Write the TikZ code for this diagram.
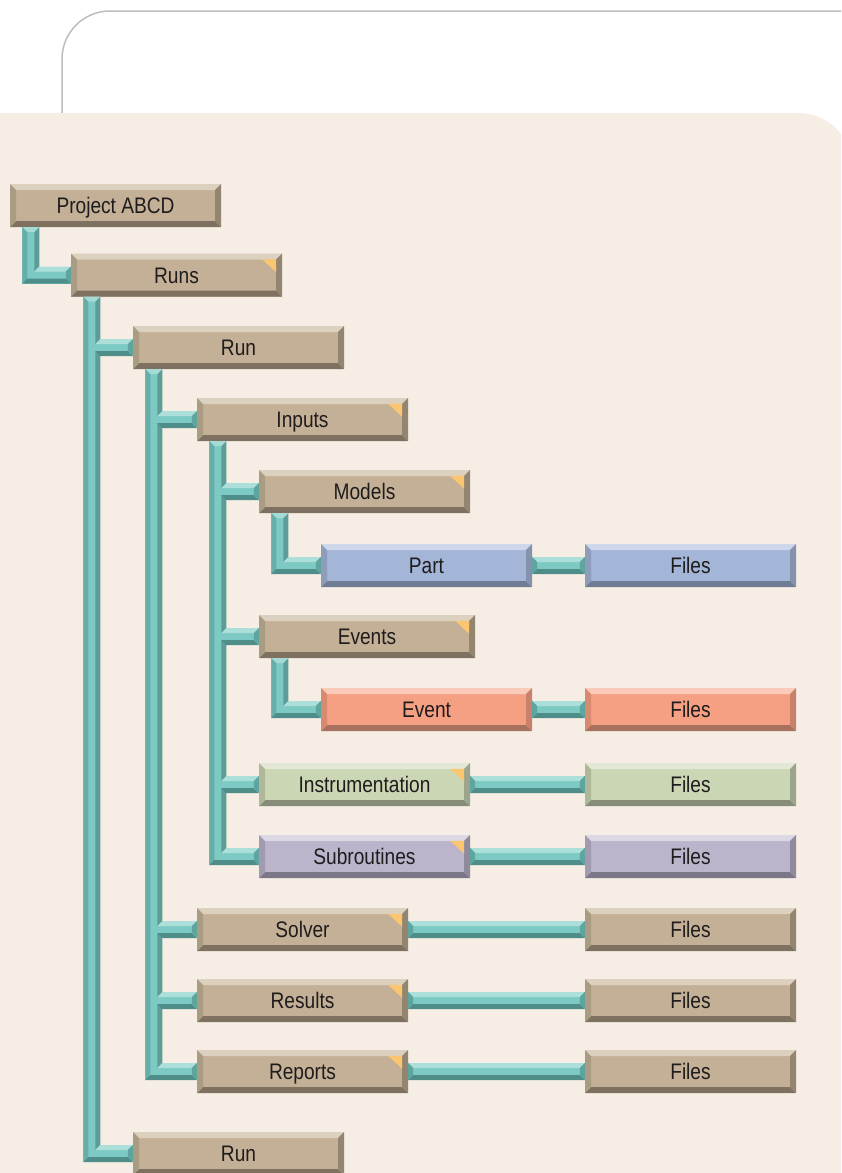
\documentclass[tikz,border=0pt]{standalone}
\usepackage{fontspec}
\setmainfont{Liberation Sans}[FakeStretch=0.85]
\usetikzlibrary{calc}
\definecolor{pageBeige}{HTML}{F6EDE4}
\definecolor{pageRule}{HTML}{BDBDBD}
\definecolor{inkDark}{HTML}{1F1C1D}
\definecolor{flagGold}{HTML}{FCC670}
% tile colours: main face and the four bevels
\definecolor{tanMain}{HTML}{C4B096}
\definecolor{tanTop}{HTML}{DCD0BF}
\definecolor{tanLeft}{HTML}{AA9B83}
\definecolor{tanRight}{HTML}{938570}
\definecolor{tanBot}{HTML}{7E715F}
\definecolor{blueMain}{HTML}{A3B6D7}
\definecolor{blueTop}{HTML}{CFD8EA}
\definecolor{blueLeft}{HTML}{8E9DBA}
\definecolor{blueRight}{HTML}{8592AE}
\definecolor{blueBot}{HTML}{6F7C94}
\definecolor{salmonMain}{HTML}{F5A083}
\definecolor{salmonTop}{HTML}{FACBB8}
\definecolor{salmonLeft}{HTML}{D88A71}
\definecolor{salmonRight}{HTML}{C8826B}
\definecolor{salmonBot}{HTML}{A8705E}
\definecolor{greenMain}{HTML}{CBD7B4}
\definecolor{greenTop}{HTML}{E2E8D5}
\definecolor{greenLeft}{HTML}{AFB99A}
\definecolor{greenRight}{HTML}{9DA48C}
\definecolor{greenBot}{HTML}{868C77}
\definecolor{purpleMain}{HTML}{BBB4CA}
\definecolor{purpleTop}{HTML}{DCD8E4}
\definecolor{purpleLeft}{HTML}{A19BAF}
\definecolor{purpleRight}{HTML}{8F8A9C}
\definecolor{purpleBot}{HTML}{7B7688}
% pipe colours
\definecolor{pipeMid}{HTML}{7DCAC4}
\definecolor{pipeLight}{HTML}{ADDFDA}
\definecolor{pipeCap}{HTML}{A6DAD5}
\definecolor{pipeLeft}{HTML}{68AEA8}
\definecolor{pipeRight}{HTML}{5C9D97}
\definecolor{pipeDark}{HTML}{4F8E88}
\definecolor{pipeEnd}{HTML}{5DA59E}

\newdimen\pipeX \newdimen\pipeY \newdimen\pipeC \newdimen\pipeE
\def\ph{8.5pt}
\def\pb{5pt}
% x of the trunk below #1, height and left edge of #2
\newcommand\pipegrab[2]{%
  \pgfextractx{\pipeX}{\pgfpointanchor{#1}{south west}}\advance\pipeX by 21pt
  \pgfextracty{\pipeY}{\pgfpointanchor{#1}{south west}}%
  \pgfextractx{\pipeE}{\pgfpointanchor{#2}{west}}%
  \pgfextracty{\pipeC}{\pgfpointanchor{#2}{west}}}
% horizontal arm from the trunk of #1 into #2
\newcommand\pipearm{%
  \fill[pipeLight] (\pipeX+\ph,\pipeC+\ph) -- (\pipeE,\pipeC+\ph)
    -- (\pipeE-\pb,\pipeC+\ph-\pb) -- (\pipeX+\ph-\pb,\pipeC+\ph-\pb) -- cycle;
  \fill[pipeEnd] (\pipeE,\pipeC+\ph) -- (\pipeE,\pipeC-\ph)
    -- (\pipeE-\pb,\pipeC-\ph+\pb) -- (\pipeE-\pb,\pipeC+\ph-\pb) -- cycle;}
\newcommand\pipetrunk[2]{%
  \pipegrab{#1}{#2}%
  \fill[pipeMid] (\pipeX-\ph,\pipeY) rectangle (\pipeX+\ph,\pipeC-\ph);
  \fill[pipeMid] (\pipeX,\pipeC+\ph) rectangle (\pipeE,\pipeC-\ph);
  \fill[pipeCap] (\pipeX-\ph,\pipeY) -- (\pipeX+\ph,\pipeY)
    -- (\pipeX+\ph-\pb,\pipeY-\pb) -- (\pipeX-\ph+\pb,\pipeY-\pb) -- cycle;
  \fill[pipeLeft] (\pipeX-\ph,\pipeY) -- (\pipeX-\ph+\pb,\pipeY-\pb)
    -- (\pipeX-\ph+\pb,\pipeC-\ph+\pb) -- (\pipeX-\ph,\pipeC-\ph) -- cycle;
  \fill[pipeRight] (\pipeX+\ph,\pipeY) -- (\pipeX+\ph,\pipeC+\ph)
    -- (\pipeX+\ph-\pb,\pipeC+\ph-\pb) -- (\pipeX+\ph-\pb,\pipeY-\pb) -- cycle;
  \fill[pipeDark] (\pipeX-\ph,\pipeC-\ph) -- (\pipeX-\ph+\pb,\pipeC-\ph+\pb)
    -- (\pipeE-\pb,\pipeC-\ph+\pb) -- (\pipeE,\pipeC-\ph) -- cycle;
  \pipearm}
\newcommand\pipebranch[2]{%
  \pipegrab{#1}{#2}%
  \fill[pipeMid] (\pipeX+\ph-\pb,\pipeC+\ph-\pb) rectangle (\pipeE,\pipeC-\ph+\pb);
  \fill[pipeDark] (\pipeX+\ph,\pipeC-\ph) -- (\pipeX+\ph-\pb,\pipeC-\ph+\pb)
    -- (\pipeE-\pb,\pipeC-\ph+\pb) -- (\pipeE,\pipeC-\ph) -- cycle;
  \pipearm}
% straight pipe from #1 to #2
\newcommand\pipelink[2]{%
  \pgfextractx{\pipeX}{\pgfpointanchor{#1}{east}}%
  \pgfextracty{\pipeC}{\pgfpointanchor{#1}{east}}%
  \pgfextractx{\pipeE}{\pgfpointanchor{#2}{west}}%
  \fill[pipeMid] (\pipeX,\pipeC+\ph) rectangle (\pipeE,\pipeC-\ph);
  \fill[pipeLight] (\pipeX,\pipeC+\ph) -- (\pipeE,\pipeC+\ph)
    -- (\pipeE-\pb,\pipeC+\ph-\pb) -- (\pipeX+\pb,\pipeC+\ph-\pb) -- cycle;
  \fill[pipeDark] (\pipeX,\pipeC-\ph) -- (\pipeX+\pb,\pipeC-\ph+\pb)
    -- (\pipeE-\pb,\pipeC-\ph+\pb) -- (\pipeE,\pipeC-\ph) -- cycle;
  \fill[pipeEnd] (\pipeX,\pipeC+\ph) -- (\pipeX+\pb,\pipeC+\ph-\pb)
    -- (\pipeX+\pb,\pipeC-\ph+\pb) -- (\pipeX,\pipeC-\ph) -- cycle;
  \fill[pipeEnd] (\pipeE,\pipeC+\ph) -- (\pipeE,\pipeC-\ph)
    -- (\pipeE-\pb,\pipeC-\ph+\pb) -- (\pipeE-\pb,\pipeC+\ph-\pb) -- cycle;}

\begin{document}
\begin{tikzpicture}[x=1pt,y=-1pt,text=inkDark,
  font=\fontsize{22.5}{25}\selectfont,
  tilebox/.style={minimum width=211,minimum height=43,inner sep=0pt,fill=#1Main,
    text height=16,text depth=0,
    path picture={
      \coordinate (nw) at (path picture bounding box.north west);
      \coordinate (ne) at (path picture bounding box.north east);
      \coordinate (sw) at (path picture bounding box.south west);
      \coordinate (se) at (path picture bounding box.south east);
      \fill[#1Top] (nw) -- (ne) -- ([shift={(-6,6)}]ne) -- ([shift={(6,6)}]nw) -- cycle;
      \fill[#1Bot] (sw) -- (se) -- ([shift={(-6,-6)}]se) -- ([shift={(6,-6)}]sw) -- cycle;
      \fill[#1Left] (nw) -- ([shift={(6,6)}]nw) -- ([shift={(6,-6)}]sw) -- (sw) -- cycle;
      \fill[#1Right] (ne) -- ([shift={(-6,6)}]ne) -- ([shift={(-6,-6)}]se) -- (se) -- cycle;
    }}]
  \clip (0,0) rectangle (841,1173);
  \fill[white] (0,0) rectangle (841,1173);
  \draw[pageRule,line width=1.5,rounded corners=48] (62,200) -- (62,11) -- (900,11);
  \fill[pageBeige,rounded corners=52] (-80,1250) -- (-80,113) -- (851,113) -- (851,1250) -- cycle;

  % tiles
  \foreach \nm/\x/\y/\col/\txt in {
    proj/115.5/205.5/tan/Project ABCD,
    runs/176.5/275/tan/Runs,
    run/238.5/347.5/tan/Run,
    inputs/302.5/419.5/tan/Inputs,
    models/364.5/491.5/tan/Models,
    part/426.5/565.5/blue/Part,
    event/426.5/709.5/salmon/Event,
    instr/364.5/784.5/green/Instrumentation,
    subr/364.5/856.5/purple/Subroutines,
    solver/302.5/929.5/tan/Solver,
    results/302.5/1000.5/tan/Results,
    reports/302.5/1071.5/tan/Reports,
    runlast/238.5/1153.5/tan/Run}
    {\node[tilebox=\col] (\nm) at (\x,\y) {\txt};}
  \node[tilebox=tan,minimum width=216] (events) at (367,636.5) {Events};
  \foreach \nm/\y/\col in {partfiles/565.5/blue,eventfiles/709.5/salmon,
    instrfiles/784.5/green,subrfiles/856.5/purple,solverfiles/929.5/tan,
    resultsfiles/1000.5/tan,reportsfiles/1071.5/tan}
    {\node[tilebox=\col] (\nm) at (690.5,\y) {Files};}

  % pipes
  \pipetrunk{proj}{runs}
  \pipetrunk{runs}{runlast}
  \pipebranch{runs}{run}
  \pipetrunk{run}{reports}
  \foreach \ch in {inputs,solver,results} {\pipebranch{run}{\ch}}
  \pipetrunk{inputs}{subr}
  \foreach \ch in {models,events,instr} {\pipebranch{inputs}{\ch}}
  \pipetrunk{models}{part}
  \pipetrunk{events}{event}
  \foreach \u/\v in {part/partfiles,event/eventfiles,instr/instrfiles,subr/subrfiles,
    solver/solverfiles,results/resultsfiles,reports/reportsfiles}
    {\pipelink{\u}{\v}}

  % corner flags
  \foreach \nm in {runs,inputs,models,events,instr,subr,solver,results,reports}
    {\fill[flagGold] ([shift={(-6,6)}]\nm.north east) -- ++(-14,0) -- ++(14,13) -- cycle;}
\end{tikzpicture}
\end{document}
